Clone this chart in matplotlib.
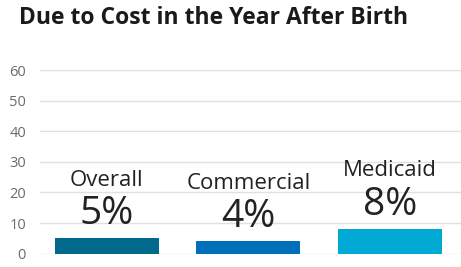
import matplotlib
matplotlib.use("Agg")
import matplotlib.pyplot as plt

categories = ["Overall", "Commercial", "Medicaid"]
values = [5, 4, 8]
value_labels = ["5%", "4%", "8%"]
yticks = [0, 10, 20, 30, 40, 50, 60]
colors = ["#00698c", "#0070bb", "#00aad5"]

plt.rcParams['font.family'] = ['Open Sans', 'DejaVu Sans']

fig = plt.figure(figsize=(4.61, 2.67), dpi=100)
ax = fig.add_axes([40/461, (267-253.7)/267, (461-40)/461, (253.7-70)/267])

x = list(range(len(categories)))
ax.bar(x, values, width=0.735, color=colors, zorder=3)
ax.set_xlim(-0.47, 2.5)
ax.set_ylim(0, 60)
ax.set_yticks(yticks)
ax.set_yticklabels([str(t) for t in yticks], color="#6b6b6b", fontsize=10.5)
ax.tick_params(axis='y', length=0, pad=10)
ax.set_xticks([])
ax.grid(axis='y', color="#e0e0e0", linewidth=1, zorder=0)
for s in ax.spines.values():
    s.set_visible(False)

for xi, v, cat, lab in zip(x, values, categories, value_labels):
    ax.annotate(lab, (xi, v), xytext=(0, 17.5), textcoords='offset points',
                ha='center', va='center', fontsize=28, color="#222222")
    ax.annotate(cat, (xi, v), xytext=(0, 42), textcoords='offset points',
                ha='center', va='center', fontsize=16, color="#222222")

fig.text(19/461, 1 - 18/267, "Due to Cost in the Year After Birth",
         fontsize=16.5, fontweight='bold', color="#1a1a1a", va='center', ha='left')

fig.savefig("out.png", dpi=100)
